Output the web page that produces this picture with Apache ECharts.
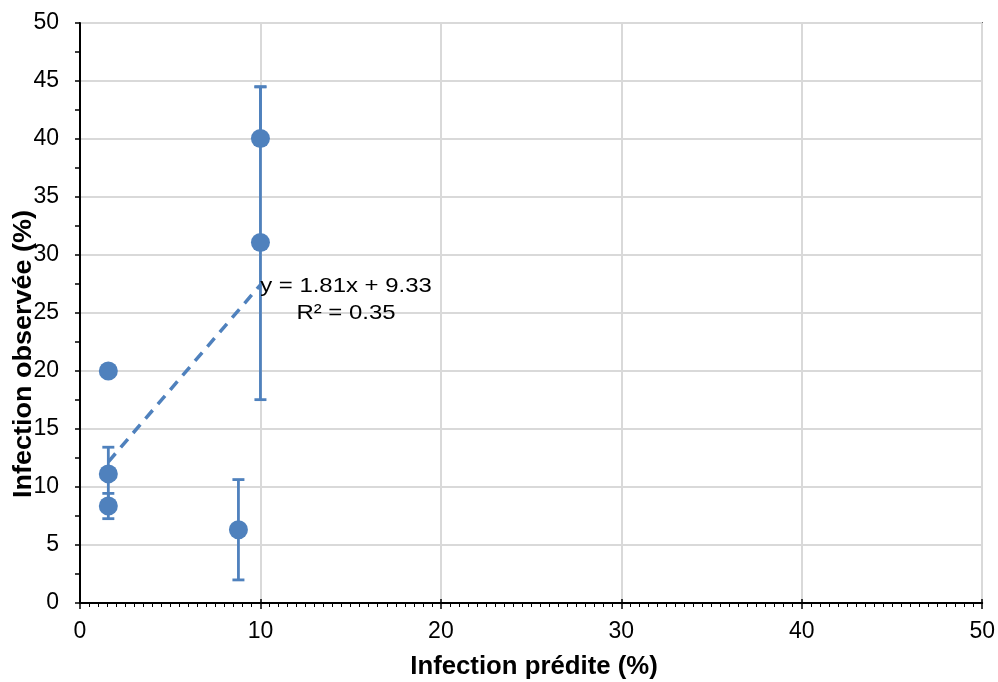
<!DOCTYPE html>
<html>
<head>
<meta charset="utf-8">
<script src="https://cdn.jsdelivr.net/npm/echarts@6/dist/echarts.min.js"></script>
<style>html,body{margin:0;padding:0;background:#fff;}#c{width:998px;height:682px;}</style>
</head>
<body>
<div id="c"></div>
<script>
const xPred = [1.57, 1.57, 1.57, 8.78, 10, 10];
const yObs = [20, 11.13, 8.36, 6.31, 40.05, 31.08];
const errLow = [20, 8.83, 7.27, 1.99, 40.05, 17.53];
const errHigh = [20, 13.43, 9.45, 10.64, 44.5, 44.5];
const trendX = [1.57, 10];
const trendY = [12.17, 27.43];
const trendText = ['y = 1.81x + 9.33', 'R² = 0.35'];
const xTitle = 'Infection prédite (%)';
const yTitle = 'Infection observée (%)';

const blue = '#4f81bd';
const font = 'Liberation Sans, Arial, sans-serif';

const chart = echarts.init(document.getElementById('c'));
const pts = xPred.map((x, i) => [x, yObs[i]]);
const errData = xPred.map((x, i) => [x, errLow[i], errHigh[i]]);
const trend = trendX.map((x, i) => [x, trendY[i]]);

chart.setOption({
  animation: false,
  backgroundColor: '#fff',
  grid: { left: 80, right: 15, top: 23, bottom: 79, show: true, borderColor: '#000', borderWidth: 1.5, backgroundColor: 'transparent' },
  xAxis: [{
    type: 'value', min: 0, max: 50, interval: 10,
    axisLine: { show: true, onZero: false, lineStyle: { color: '#000', width: 2 } },
    axisTick: { show: true, length: 6, lineStyle: { color: '#000', width: 1.5 } },
    minorTick: { show: true, splitNumber: 20, length: 4, lineStyle: { color: '#000', width: 1 } },
    axisLabel: { fontFamily: font, fontSize: 23, color: '#000', margin: 17 },
    splitLine: { show: true, lineStyle: { color: '#d9d9d9', width: 2 } }
  }, {
    type: 'value', min: 0, max: 50, interval: 10, position: 'bottom',
    axisLine: { show: false, onZero: false },
    axisTick: { show: true, inside: true, length: 4, lineStyle: { color: '#000', width: 1.5 } },
    axisLabel: { show: false },
    splitLine: { show: false }
  }],
  yAxis: {
    type: 'value', min: 0, max: 50, interval: 5,
    axisLine: { show: true, onZero: false, lineStyle: { color: '#000', width: 2 } },
    axisTick: { show: true, length: 5, lineStyle: { color: '#000', width: 1.5 } },
    minorTick: { show: true, splitNumber: 2, length: 5, lineStyle: { color: '#000', width: 1.5 } },
    axisLabel: { fontFamily: font, fontSize: 23, color: '#000', margin: 21 },
    splitLine: { show: true, lineStyle: { color: '#d9d9d9', width: 2 } }
  },
  graphic: [
    { type: 'text', x: 24, y: 354, rotation: Math.PI / 2, scaleX: 1.08,
      style: { text: yTitle, font: 'bold 25px ' + font, fill: '#000', align: 'center', verticalAlign: 'middle' }, z: 100 },
    { type: 'text', x: 534, y: 667, scaleX: 1.03,
      style: { text: xTitle, font: 'bold 25px ' + font, fill: '#000', align: 'center', verticalAlign: 'middle' }, z: 100 },
    { type: 'text', x: 346, y: 286, scaleX: 1.14,
      style: { text: trendText[0], font: '21px ' + font, fill: '#000', align: 'center', verticalAlign: 'middle' }, z: 100 },
    { type: 'text', x: 346, y: 313.5, scaleX: 1.14,
      style: { text: trendText[1], font: '21px ' + font, fill: '#000', align: 'center', verticalAlign: 'middle' }, z: 100 }
  ],
  series: [
    {
      type: 'custom', z: 3,
      data: errData,
      renderItem: function (params, api) {
        const x = api.value(0), lo = api.value(1), hi = api.value(2);
        const y = yObs[params.dataIndex];
        const st = { stroke: blue, lineWidth: 2.8 };
        const w = 6;
        const ch = [];
        const pc = api.coord([x, y]);
        if (hi > y) {
          const p = api.coord([x, hi]);
          ch.push({ type: 'line', shape: { x1: pc[0], y1: pc[1], x2: p[0], y2: p[1] }, style: st });
          ch.push({ type: 'line', shape: { x1: p[0] - w, y1: p[1], x2: p[0] + w, y2: p[1] }, style: st });
        }
        if (lo < y) {
          const p = api.coord([x, lo]);
          ch.push({ type: 'line', shape: { x1: pc[0], y1: pc[1], x2: p[0], y2: p[1] }, style: st });
          ch.push({ type: 'line', shape: { x1: p[0] - w, y1: p[1], x2: p[0] + w, y2: p[1] }, style: st });
        }
        return { type: 'group', children: ch };
      }
    },
    {
      type: 'scatter', z: 4, data: pts, symbol: 'circle', symbolSize: 19,
      itemStyle: { color: blue, opacity: 1 }
    },
    {
      type: 'line', z: 5, data: trend, symbol: 'none',
      lineStyle: { color: blue, width: 3.5, type: [11, 8] }
    }
  ]
});
</script>
</body>
</html>
